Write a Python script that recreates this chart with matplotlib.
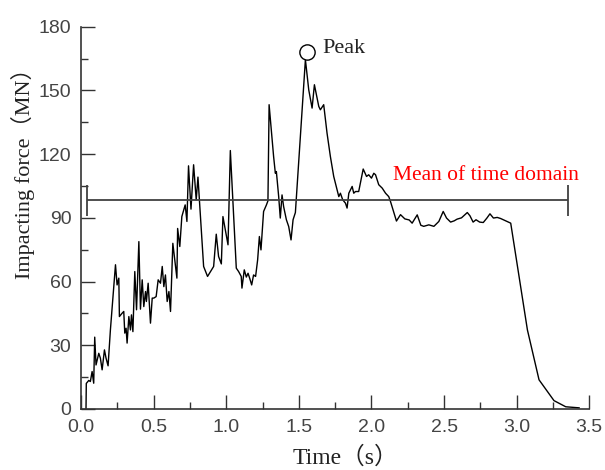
import numpy as np
import matplotlib.pyplot as plt
from matplotlib.ticker import MultipleLocator

# time (s) and impacting force (MN)
time = [0.034, 0.036, 0.053, 0.064, 0.076, 0.087, 0.094, 0.103, 0.122, 0.133,
        0.145, 0.161, 0.172, 0.186, 0.202, 0.237, 0.248, 0.260, 0.264, 0.283,
        0.294, 0.301, 0.310, 0.317, 0.329, 0.340, 0.347, 0.357, 0.370, 0.382,
        0.398, 0.409, 0.421, 0.432, 0.444, 0.450, 0.462, 0.478, 0.490, 0.501,
        0.517, 0.531, 0.547, 0.559, 0.570, 0.581, 0.593, 0.605, 0.616, 0.632,
        0.646, 0.660, 0.665, 0.680, 0.694, 0.717, 0.729, 0.740, 0.757, 0.775,
        0.793, 0.805, 0.844, 0.871, 0.913, 0.931, 0.947, 0.966, 0.977, 0.993,
        1.012, 1.028, 1.069, 1.085, 1.103, 1.108, 1.124, 1.138, 1.150, 1.161,
        1.175, 1.188, 1.202, 1.216, 1.228, 1.239, 1.257, 1.276, 1.287, 1.295,
        1.326, 1.338, 1.345, 1.361, 1.372, 1.384, 1.395, 1.414, 1.430, 1.446,
        1.460, 1.476, 1.545, 1.568, 1.591, 1.607, 1.626, 1.637, 1.648, 1.671,
        1.694, 1.717, 1.740, 1.763, 1.775, 1.786, 1.802, 1.821, 1.832, 1.844,
        1.867, 1.878, 1.890, 1.912, 1.943, 1.966, 1.981, 2.000, 2.016, 2.028,
        2.050, 2.074, 2.097, 2.119, 2.131, 2.172, 2.200, 2.230, 2.260, 2.280,
        2.315, 2.340, 2.360, 2.395, 2.430, 2.464, 2.494, 2.517, 2.545, 2.570,
        2.590, 2.620, 2.660, 2.678, 2.700, 2.720, 2.745, 2.770, 2.795, 2.816,
        2.832, 2.840, 2.866, 2.889, 2.924, 2.959, 3.074, 3.154, 3.257, 3.338,
        3.430]
force = [0.0, 12.0, 13.4, 12.9, 17.6, 12.1, 33.8, 20.7, 26.2, 23.9,
         18.4, 27.8, 23.9, 20.3, 37.2, 67.9, 58.4, 61.6, 43.5, 45.1,
         45.9, 35.7, 38.0, 31.0, 43.5, 37.2, 44.3, 36.4, 64.7, 46.7,
         78.8, 47.0, 60.8, 48.2, 55.3, 50.6, 59.2, 40.4, 52.2, 52.2,
         52.9, 60.8, 59.2, 67.1, 57.6, 63.1, 50.6, 55.3, 45.9, 78.0,
         70.0, 61.6, 85.0, 76.5, 90.6, 96.1, 88.3, 114.5, 94.1, 115.0,
         98.5, 109.2, 67.1, 62.4, 67.1, 82.3, 71.8, 68.3, 90.6, 84.4,
         77.3, 121.7, 66.3, 64.7, 62.4, 56.9, 65.5, 62.1, 63.9, 61.6,
         58.4, 63.1, 62.4, 70.2, 81.2, 74.9, 93.0, 96.0, 98.0, 143.3,
         118.9, 111.0, 111.8, 100.0, 89.9, 100.8, 95.3, 89.1, 85.9, 79.6,
         89.1, 92.5, 164.5, 150.3, 141.7, 152.7, 146.4, 142.5, 140.9, 143.3,
         129.9, 118.9, 109.5, 103.2, 100.0, 101.6, 98.5, 96.9, 94.6, 101.6,
         104.8, 101.6, 102.4, 102.4, 113.0, 109.5, 110.3, 108.7, 111.0, 110.3,
         105.6, 104.0, 101.6, 100.0, 97.7, 88.5, 91.5, 89.5, 89.0, 87.5,
         91.4, 86.5, 86.0, 86.7, 86.0, 88.3, 93.0, 89.9, 88.0, 88.6,
         89.4, 90.0, 92.5, 91.0, 88.0, 89.1, 88.0, 87.8, 89.9, 91.9,
         90.6, 89.9, 90.2, 89.7, 88.6, 87.5, 37.2, 13.7, 3.9, 1.0,
         0.5]

peak_t, peak_f = 1.556, 168
mean_f = 98.3
mean_t0, mean_t1 = 0.043, 3.354
cap = 7.3

fig = plt.figure(figsize=(6.05, 4.7), dpi=100)
ax = fig.add_axes([0.134, 0.130, 0.840, 0.813])

ax.plot(time, force, c='k', lw=1.0)
ax.hlines(mean_f, mean_t0, mean_t1, color='#404040', lw=1.3)
ax.vlines([mean_t0, mean_t1], mean_f - cap, mean_f + cap, color='#404040', lw=1.3)
ax.plot(peak_t, peak_f, 'o', ms=11, mfc='white', mec='k', mew=1.0)

ax.text(1.662, 170, 'Peak', fontsize=16, family='Liberation Serif',
        color='#222222', va='center')
ax.text(2.145, 110, 'Mean of time domain', fontsize=15.5,
        family='Liberation Serif', color='red', va='center')

ax.set_xlim(0, 3.5)
ax.set_ylim(0, 180)
ax.xaxis.set_major_locator(MultipleLocator(0.5))
ax.xaxis.set_minor_locator(MultipleLocator(0.25))
ax.yaxis.set_major_locator(MultipleLocator(30))
ax.yaxis.set_minor_locator(MultipleLocator(15))
ax.set_xticklabels([], minor=True)
ax.xaxis.set_major_formatter(plt.FuncFormatter(lambda v, p: '%.1f' % v))

for s in ['top', 'right']:
    ax.spines[s].set_visible(False)
for s in ['left', 'bottom']:
    ax.spines[s].set_color('#333333')
    ax.spines[s].set_linewidth(1.2)

ax.tick_params(which='major', direction='in', length=10, width=1.0,
               color='#333333', labelsize=14, labelcolor='#444444', pad=7)
ax.tick_params(which='minor', direction='in', length=5, width=1.0,
               color='#333333')
for lab in ax.get_xticklabels() + ax.get_yticklabels():
    lab.set_family('Liberation Sans')

ax.set_xlabel('Time（s）', fontsize=17,
              family=['Liberation Serif', 'Noto Sans CJK SC'], color='#222222')
ax.set_ylabel('Impacting force（MN）', fontsize=16,
              family=['Liberation Serif', 'Noto Sans CJK SC'], color='#222222')
ax.xaxis.set_label_coords(0.52, -0.098)
ax.yaxis.set_label_coords(-0.09, 0.63)

plt.savefig('out.png', dpi=100)
